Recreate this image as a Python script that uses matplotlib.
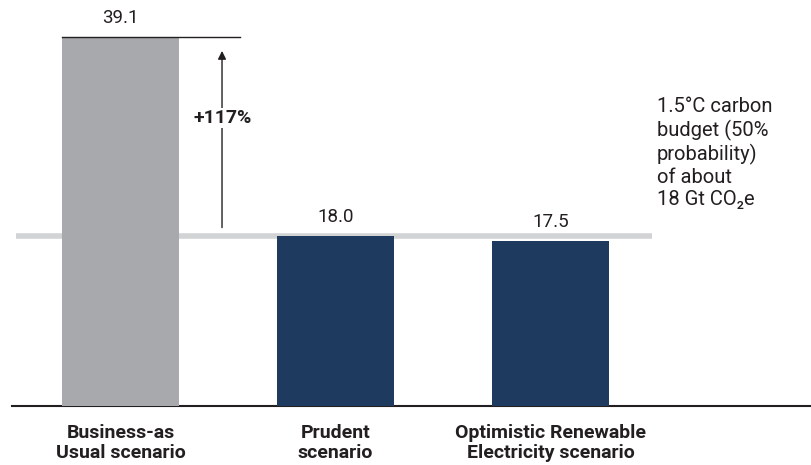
import numpy as np
from matplotlib import pyplot as plt

plt.rcParams['font.family'] = ['Roboto', 'DejaVu Sans']

# Data
categories = ['Business-as\nUsual scenario', 'Prudent\nscenario', 'Optimistic Renewable\nElectricity scenario']
values = [39.1, 18.0, 17.5]
value_labels = ['39.1', '18.0', '17.5']
budget = 18.0
increase_label = '+117%'
budget_text = '1.5°C carbon\nbudget (50%\nprobability)\nof about\n18 Gt CO₂e'

bar_colors = ['#a7a9ac', '#1f3a5f', '#1f3a5f']
x = np.arange(len(categories))

fig = plt.figure(figsize=(8.11, 4.65), dpi=100)
ax = fig.add_axes([12/811, 1 - 406/465, 1 - 12/811, 406/465])

ax.bar(x, values, width=0.544, color=bar_colors, zorder=3)

# carbon budget line
ax.plot([-0.486, 2.472], [budget, budget], color='#d1d3d4', lw=4, zorder=2, solid_capstyle='butt')

# value labels
for xi, v, lab in zip(x, values, value_labels):
    ax.text(xi, v + 2.0, lab, ha='center', va='center', fontsize=13.5, color='#231f20')

# top reference line and arrow
ax.plot([x[0] - 0.272, 0.556], [values[0], values[0]], color='#231f20', lw=1, zorder=4)
ax.annotate('', xy=(0.472, values[0] - 1.2), xytext=(0.472, budget + 0.6),
            arrowprops=dict(arrowstyle='-|>', color='#231f20', lw=1, mutation_scale=12))
ax.text(0.475, 30.5, increase_label, ha='center', va='center', fontsize=14, fontweight='bold',
        color='#231f20', bbox=dict(facecolor='white', edgecolor='none', pad=1))

# annotation text
ax.text(2.495, 32.7, budget_text, ha='left', va='top', fontsize=14.5, color='#231f20',
        linespacing=1.2)

ax.set_xlim(-0.505, 3.212)
ax.set_ylim(0, 43.0)
ax.set_yticks([])
ax.set_xticks(x)
ax.set_xticklabels(categories, fontsize=14, fontweight='bold', color='#231f20', linespacing=1.15)
ax.tick_params(axis='x', length=0, pad=13)
for s in ['top', 'right', 'left']:
    ax.spines[s].set_visible(False)
ax.spines['bottom'].set_linewidth(1.5)
ax.spines['bottom'].set_color('#231f20')

fig.savefig('out.png', dpi=100)
